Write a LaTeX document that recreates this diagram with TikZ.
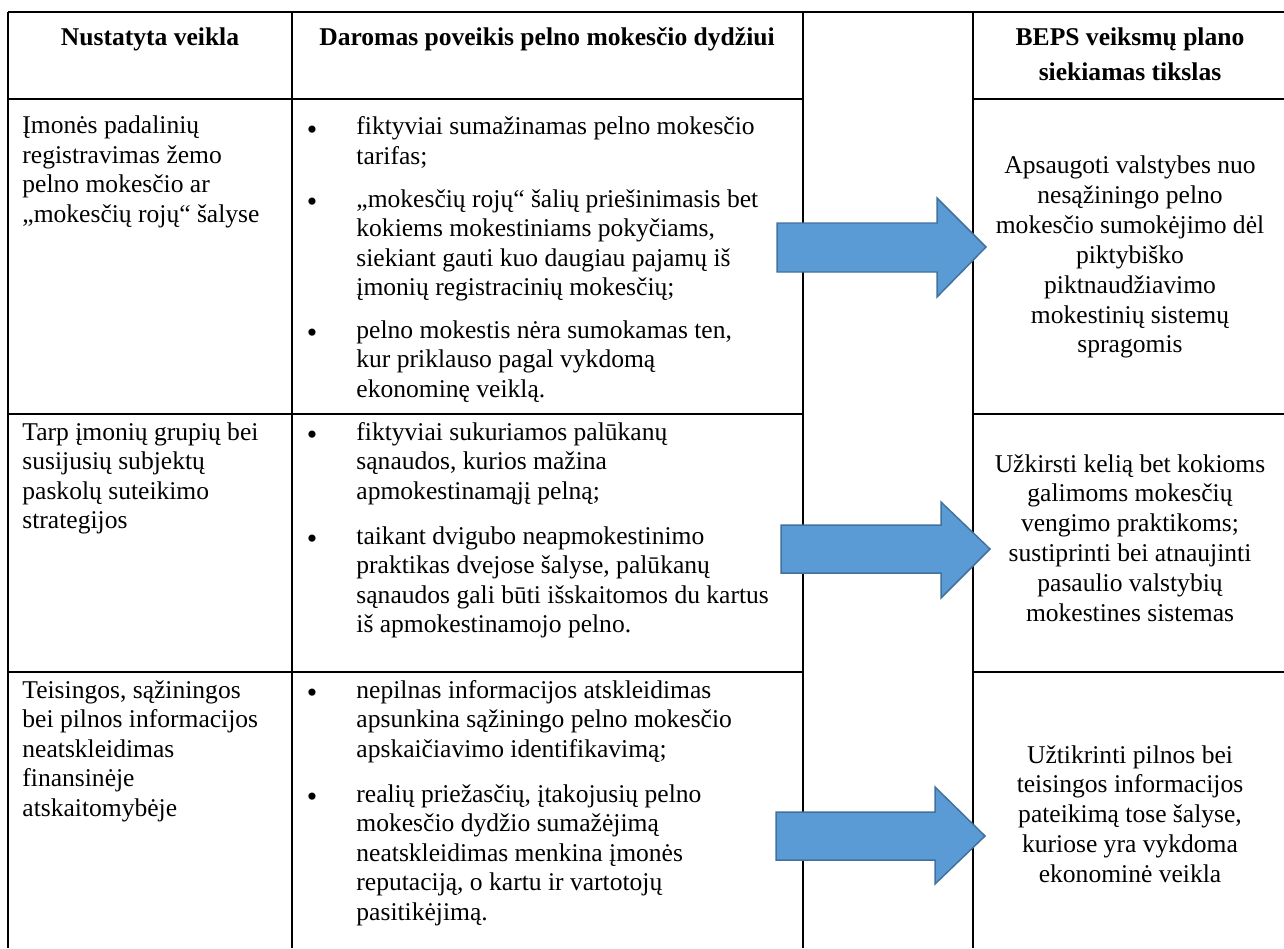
\documentclass[tikz,border=0pt]{standalone}
\usepackage{fontspec}
\setmainfont{Liberation Serif}

% stacked lines: baseline of the block is the baseline of its first line
\newcommand\stackL[2]{\vtop{\baselineskip=#1\lineskiplimit=-\maxdimen\halign{##\hfil\cr#2\crcr}}}
\newcommand\stackC[2]{\vtop{\baselineskip=#1\lineskiplimit=-\maxdimen\halign{\hfil##\hfil\cr#2\crcr}}}

\definecolor{arrowfill}{RGB}{91,155,213}
\definecolor{arrowedge}{RGB}{65,113,156}

\tikzset{
  txt/.style={inner sep=0pt, font=\fontsize{12pt}{13.85pt}\selectfont},
  cellL/.style={txt, anchor=base west},
  cellC/.style={txt, anchor=base},
  headtxt/.style={txt, anchor=base, font=\fontsize{12pt}{13.85pt}\selectfont\bfseries},
  bul/.style={inner sep=0pt, anchor=base, font=\fontsize{14pt}{14pt}\selectfont, yshift=-2.2pt},
  hrule/.style={line width=1.05pt, black},
  vrule/.style={line width=0.65pt, black},
  bigarrow/.style={fill=arrowfill, draw=arrowedge, line width=0.7pt, line join=miter},
}

\begin{document}
\begin{tikzpicture}[x=0.4695pt, y=-0.4695pt]
\useasboundingbox (0,0) rectangle (1284,948);

% ---------- table rules ----------
\draw[vrule] (8,12) -- (8,948);
\draw[vrule] (292,12) -- (292,948);
\draw[vrule] (803,12) -- (803,948);
\draw[vrule] (973,12) -- (973,948);
\draw[hrule] (8,12) -- (1284,12);
\foreach \yy in {99,414,672} {
  \draw[hrule] (8,\yy) -- (803,\yy);
  \draw[hrule] (973,\yy) -- (1284,\yy);
}

% ---------- header ----------
\node[headtxt] (h1) at (150,46) {Nustatyta veikla};
\node[headtxt] (h2) at (547,46) {Daromas poveikis pelno mokesčio dydžiui};
\node[headtxt] (h4) at (1130,46) {\stackC{16.4pt}{BEPS veiksmų plano\cr siekiamas tikslas}};

% ---------- first column ----------
\node[cellL] (a1) at (22,134) {\stackL{13.85pt}{Įmonės padalinių\cr registravimas žemo\cr pelno mokesčio ar\cr „mokesčių rojų“ šalyse}};
\node[cellL] (a2) at (22,440) {\stackL{13.85pt}{Tarp įmonių grupių bei\cr susijusių subjektų\cr paskolų suteikimo\cr strategijos}};
\node[cellL] (a3) at (22,698) {\stackL{13.85pt}{Teisingos, sąžiningos\cr bei pilnos informacijos\cr neatskleidimas\cr finansinėje\cr atskaitomybėje}};

% ---------- second column: bulleted effects ----------
\node[bul] (b11) at (312,135) {•};
\node[cellL] (c11) at (356,135) {\stackL{13.85pt}{fiktyviai sumažinamas pelno mokesčio\cr tarifas;}};
\node[bul] (b12) at (312,207) {•};
\node[cellL] (c12) at (356,207) {\stackL{13.85pt}{„mokesčių rojų“ šalių priešinimasis bet\cr kokiems mokestiniams pokyčiams,\cr siekiant gauti kuo daugiau pajamų iš\cr įmonių registracinių mokesčių;}};
\node[bul] (b13) at (312,338) {•};
\node[cellL] (c13) at (356,338) {\stackL{13.85pt}{pelno mokestis nėra sumokamas ten,\cr kur priklauso pagal vykdomą\cr ekonominę veiklą.}};

\node[bul] (b21) at (312,440) {•};
\node[cellL] (c21) at (356,440) {\stackL{13.85pt}{fiktyviai sukuriamos palūkanų\cr sąnaudos, kurios mažina\cr apmokestinamąjį pelną;}};
\node[bul] (b22) at (312,544) {•};
\node[cellL] (c22) at (356,544) {\stackL{13.85pt}{taikant dvigubo neapmokestinimo\cr praktikas dvejose šalyse, palūkanų\cr sąnaudos gali būti išskaitomos du kartus\cr iš apmokestinamojo pelno.}};

\node[bul] (b31) at (312,698) {•};
\node[cellL] (c31) at (356,698) {\stackL{13.85pt}{nepilnas informacijos atskleidimas\cr apsunkina sąžiningo pelno mokesčio\cr apskaičiavimo identifikavimą;}};
\node[bul] (b32) at (312,802) {•};
\node[cellL] (c32) at (356,802) {\stackL{13.85pt}{realių priežasčių, įtakojusių pelno\cr mokesčio dydžio sumažėjimą\cr neatskleidimas menkina įmonės\cr reputaciją, o kartu ir vartotojų\cr pasitikėjimą.}};

% ---------- fourth column: goals ----------
\node[cellC] (g1) at (1130,174) {\stackC{14pt}{Apsaugoti valstybes nuo\cr nesąžiningo pelno\cr mokesčio sumokėjimo dėl\cr piktybiško\cr piktnaudžiavimo\cr mokestinių sistemų\cr spragomis}};
\node[cellC] (g2) at (1130,472) {\stackC{14pt}{Užkirsti kelią bet kokioms\cr galimoms mokesčių\cr vengimo praktikoms;\cr sustiprinti bei atnaujinti\cr pasaulio valstybių\cr mokestines sistemas}};
\node[cellC] (g3) at (1130,763) {\stackC{14pt}{Užtikrinti pilnos bei\cr teisingos informacijos\cr pateikimą tose šalyse,\cr kuriose yra vykdoma\cr ekonominė veikla}};

% ---------- block arrows ----------
\draw[bigarrow] (777,223) -- (937,223) -- (937,198) -- (986,247) -- (937,297) -- (937,272) -- (777,272) -- cycle;
\draw[bigarrow] (781,525) -- (941,525) -- (941,502) -- (990,549) -- (941,598) -- (941,573) -- (781,573) -- cycle;
\draw[bigarrow] (776,812) -- (935,812) -- (935,787) -- (985,836) -- (935,884) -- (935,860) -- (776,860) -- cycle;
\end{tikzpicture}
\end{document}
